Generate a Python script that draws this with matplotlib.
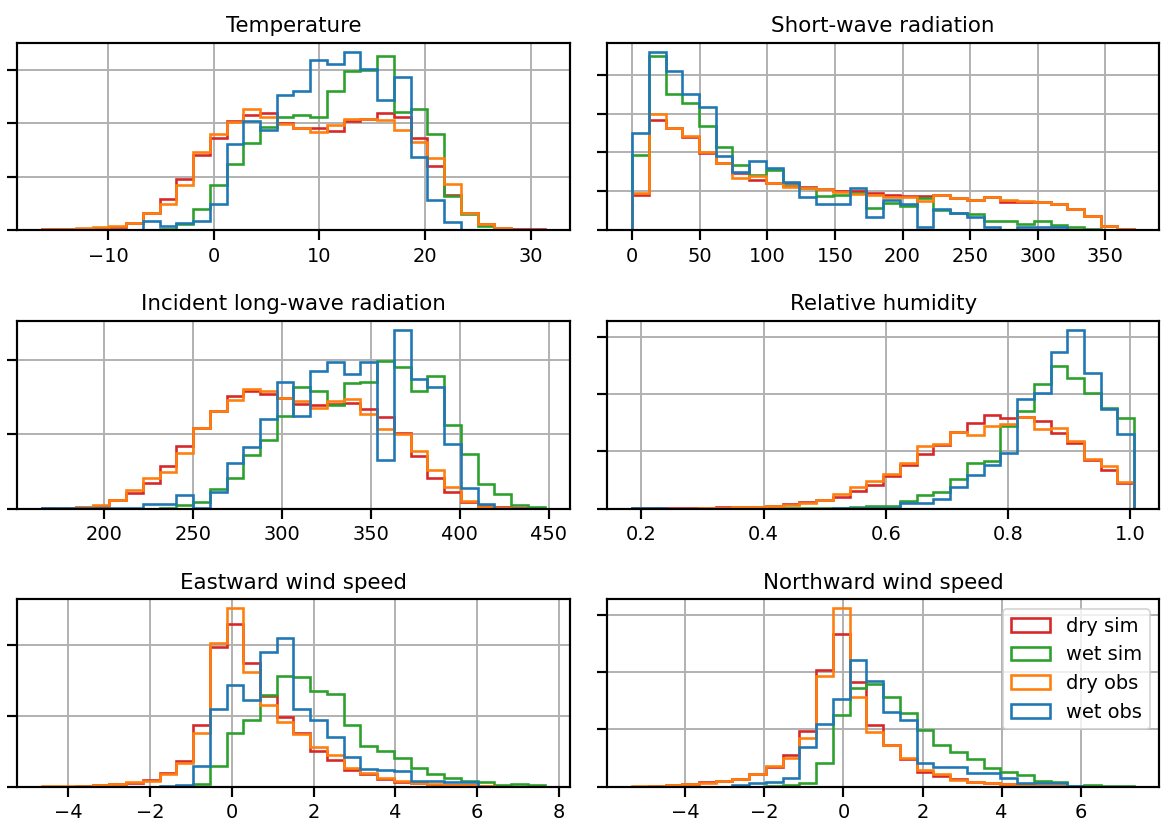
import numpy as np
import matplotlib
matplotlib.use("Agg")
import matplotlib.pyplot as plt
from matplotlib.ticker import MultipleLocator, NullFormatter

plt.rcParams.update({
    "font.family": ["DejaVu Sans"],
    "font.size": 11,
    "axes.titlesize": 12.3,
    "xtick.labelsize": 11.2,
    "ytick.labelsize": 11.2,
    "legend.fontsize": 11.2,
    "axes.linewidth": 1.25,
    "grid.linewidth": 1.1,
    "xtick.major.size": 6,
    "ytick.major.size": 6,
    "xtick.major.width": 1.25,
    "ytick.major.width": 1.25,
})

N_BINS = 30
series_names = ["dry sim", "wet sim", "dry obs", "wet obs"]
series_colors = ["tab:red", "tab:green", "tab:orange", "tab:blue"]

# ---- Temperature (degC) ----
temp_range = (-16.2, 31.3)
temp_dry_sim = [0.02, 0.02, 0.03, 0.05, 0.07, 0.13, 0.32, 0.58, 0.96, 1.40, 1.73, 2.04, 2.16, 2.19, 2.00,
                1.91, 1.91, 1.85, 2.04, 2.08, 2.19, 2.12, 1.73, 1.21, 0.66, 0.32, 0.12, 0.04, 0.025, 0.02]
temp_wet_sim = [0, 0, 0, 0, 0, 0, 0.005, 0.025, 0.12, 0.40, 0.84, 1.24, 1.63, 1.94, 2.11,
                2.16, 2.12, 2.60, 2.97, 2.99, 3.26, 2.22, 2.26, 1.81, 0.64, 0.31, 0.09, 0.03, 0.01, 0.005]
temp_dry_obs = [0.025, 0.02, 0.04, 0.055, 0.075, 0.14, 0.32, 0.50, 0.84, 1.47, 1.80, 2.03, 2.26, 2.12, 1.99,
                1.91, 1.83, 1.96, 2.08, 2.08, 2.06, 1.88, 1.66, 1.35, 0.87, 0.32, 0.12, 0.04, 0.01, 0.0]
temp_wet_obs = [0, 0, 0, 0.005, 0.01, 0.01, 0.17, 0.075, 0.14, 0.17, 0.50, 1.61, 2.04, 1.88, 2.53,
                2.61, 3.18, 3.11, 3.34, 3.02, 2.43, 2.86, 1.38, 0.57, 0.155, 0, 0, 0, 0, 0]

# ---- Short-wave radiation (W m-2) ----
sw_range = (0.0, 371.3)
sw_dry_sim = [0.92, 2.83, 2.63, 2.41, 1.99, 1.73, 1.47, 1.30, 1.22, 1.22, 1.11, 1.06, 1.01, 1.01, 0.96,
              0.90, 0.88, 0.88, 0.90, 0.83, 0.78, 0.87, 0.72, 0.72, 0.74, 0.67, 0.54, 0.38, 0.11, 0.035]
sw_wet_sim = [1.94, 4.49, 3.51, 3.26, 2.69, 2.15, 1.69, 1.41, 1.55, 1.13, 1.09, 0.88, 0.92, 0.96, 0.57,
              0.70, 0.62, 0.82, 0.53, 0.44, 0.41, 0.24, 0.24, 0.17, 0.24, 0.15, 0.085, 0.03, 0.01, 0.005]
sw_dry_obs = [0.96, 2.99, 2.62, 2.42, 2.00, 1.72, 1.35, 1.39, 1.22, 1.11, 1.08, 1.05, 0.98, 0.94, 0.91,
              0.87, 0.85, 0.75, 0.90, 0.83, 0.78, 0.87, 0.78, 0.75, 0.74, 0.67, 0.54, 0.38, 0.11, 0.035]
sw_wet_obs = [2.49, 4.59, 4.09, 3.50, 3.16, 1.92, 1.49, 1.77, 1.59, 1.25, 0.85, 0.68, 0.68, 1.09, 0.34,
              0.77, 0.67, 0.085, 0.54, 0.44, 0.34, 0.085, 0.02, 0.085, 0.085, 0.085, 0.015, 0, 0, 0]

# ---- Incident long-wave radiation (W m-2) ----
lw_range = (165.6, 447.6)
lw_dry_sim = [0.005, 0.013, 0.02, 0.04, 0.11, 0.21, 0.35, 0.58, 0.85, 1.08, 1.31, 1.52, 1.59, 1.55, 1.49,
              1.41, 1.39, 1.41, 1.42, 1.34, 1.23, 1.02, 0.71, 0.41, 0.22, 0.09, 0.03, 0.02, 0.003, 0]
lw_wet_sim = [0, 0, 0, 0, 0, 0, 0, 0.01, 0.045, 0.09, 0.26, 0.41, 0.72, 0.93, 1.25,
              1.64, 1.59, 1.39, 1.69, 1.71, 1.99, 1.91, 1.59, 1.79, 1.12, 0.74, 0.33, 0.19, 0.045, 0.02]
lw_dry_obs = [0, 0.013, 0.02, 0.05, 0.11, 0.25, 0.41, 0.49, 0.75, 1.08, 1.31, 1.46, 1.61, 1.58, 1.49,
              1.45, 1.36, 1.45, 1.48, 1.28, 1.07, 1.00, 0.77, 0.52, 0.29, 0.10, 0.02, 0.01, 0, 0]
lw_wet_obs = [0.003, 0.003, 0.003, 0.003, 0.003, 0.003, 0.06, 0.06, 0.18, 0.005, 0.22, 0.61, 0.83, 1.21, 1.70,
              1.25, 1.86, 1.97, 1.81, 1.97, 0.66, 2.41, 1.75, 1.64, 0.87, 0.28, 0.06, 0, 0, 0]

# ---- Relative humidity (-) ----
rh_range = (0.185, 1.0063)
rh_dry_sim = [0.003, 0.003, 0.003, 0.003, 0.003, 0.02, 0.03, 0.035, 0.05, 0.075, 0.11, 0.145, 0.20, 0.30, 0.42,
              0.57, 0.76, 0.95, 1.12, 1.34, 1.50, 1.63, 1.59, 1.61, 1.54, 1.32, 1.15, 0.85, 0.67, 0.44]
rh_wet_sim = [0, 0, 0, 0, 0, 0, 0, 0, 0.003, 0.005, 0.005, 0.01, 0.015, 0.02, 0.04,
              0.04, 0.13, 0.23, 0.29, 0.51, 0.80, 0.83, 1.45, 1.70, 2.18, 2.50, 2.28, 2.03, 1.76, 1.59]
rh_dry_obs = [0, 0, 0, 0, 0.003, 0.017, 0.02, 0.03, 0.045, 0.07, 0.105, 0.145, 0.25, 0.38, 0.49,
              0.61, 0.80, 1.09, 1.13, 1.34, 1.28, 1.44, 1.48, 1.61, 1.40, 1.41, 1.19, 0.87, 0.74, 0.47]
rh_wet_obs = [0.003, 0.003, 0, 0, 0, 0, 0, 0, 0, 0, 0, 0, 0.003, 0.005, 0.005,
              0.005, 0.10, 0.10, 0.16, 0.38, 0.58, 0.76, 0.98, 1.92, 2.02, 2.74, 3.13, 2.38, 1.74, 1.31]

# ---- Eastward wind speed (m s-1) ----
ew_range = (-4.625, 7.643)
ew_dry_sim = [0.003, 0.003, 0.01, 0.02, 0.04, 0.05, 0.10, 0.20, 0.37, 0.87, 1.98, 2.31, 1.75, 1.28, 0.99,
              0.76, 0.51, 0.38, 0.23, 0.18, 0.11, 0.07, 0.047, 0.03, 0.03, 0.02, 0.01, 0, 0, 0]
ew_wet_sim = [0, 0, 0, 0, 0, 0, 0, 0, 0.003, 0.04, 0.30, 0.76, 0.95, 1.30, 1.56,
              1.55, 1.35, 1.31, 0.88, 0.58, 0.50, 0.41, 0.27, 0.18, 0.12, 0.075, 0.06, 0.03, 0.045, 0.03]
ew_dry_obs = [0.005, 0.005, 0.015, 0.025, 0.04, 0.06, 0.085, 0.18, 0.33, 0.76, 2.03, 2.53, 1.63, 1.16, 0.91,
              0.75, 0.56, 0.45, 0.27, 0.20, 0.13, 0.075, 0.047, 0.04, 0.03, 0.025, 0.005, 0, 0, 0]
ew_wet_obs = [0.003, 0.003, 0, 0, 0, 0, 0, 0.005, 0.03, 0.29, 1.10, 1.44, 1.23, 1.90, 2.10,
              1.10, 0.95, 0.70, 0.42, 0.25, 0.24, 0.22, 0.085, 0.085, 0.07, 0.07, 0, 0, 0, 0]

# ---- Northward wind speed (m s-1) ----
nw_range = (-5.346, 7.353)
nw_dry_sim = [0.003, 0.01, 0.03, 0.045, 0.075, 0.105, 0.14, 0.22, 0.34, 0.56, 0.98, 2.03, 2.66, 1.82, 1.08,
              0.73, 0.48, 0.26, 0.19, 0.13, 0.087, 0.06, 0.04, 0.03, 0.02, 0.015, 0.003, 0, 0, 0]
nw_wet_sim = [0, 0, 0, 0, 0, 0, 0, 0, 0.005, 0.03, 0.07, 0.41, 1.26, 1.73, 1.80,
              1.57, 1.29, 0.99, 0.72, 0.60, 0.48, 0.32, 0.26, 0.20, 0.10, 0.075, 0.01, 0.035, 0.01, 0.01]
nw_dry_obs = [0.005, 0.01, 0.03, 0.04, 0.07, 0.10, 0.13, 0.22, 0.36, 0.51, 0.85, 1.93, 3.12, 1.57, 0.96,
              0.73, 0.51, 0.29, 0.23, 0.116, 0.08, 0.06, 0.04, 0.03, 0.017, 0.017, 0, 0, 0, 0]
nw_wet_obs = [0.003, 0.003, 0.003, 0.003, 0.003, 0.003, 0.03, 0.07, 0.09, 0.15, 0.69, 1.10, 1.53, 2.22, 1.85,
              1.31, 1.16, 0.42, 0.35, 0.35, 0.24, 0.24, 0.15, 0.06, 0.06, 0.07, 0.01, 0, 0, 0]

panels = [
    ("Temperature", temp_range, [temp_dry_sim, temp_wet_sim, temp_dry_obs, temp_wet_obs], 10),
    ("Short-wave radiation", sw_range, [sw_dry_sim, sw_wet_sim, sw_dry_obs, sw_wet_obs], 50),
    ("Incident long-wave radiation", lw_range, [lw_dry_sim, lw_wet_sim, lw_dry_obs, lw_wet_obs], 50),
    ("Relative humidity", rh_range, [rh_dry_sim, rh_wet_sim, rh_dry_obs, rh_wet_obs], 0.2),
    ("Eastward wind speed", ew_range, [ew_dry_sim, ew_wet_sim, ew_dry_obs, ew_wet_obs], 2),
    ("Northward wind speed", nw_range, [nw_dry_sim, nw_wet_sim, nw_dry_obs, nw_wet_obs], 2),
]

fig, axes = plt.subplots(3, 2, figsize=(9.384, 6.632), dpi=125)
fig.subplots_adjust(left=0.01475, right=0.98832, top=0.9485, bottom=0.0510,
                    wspace=0.0675, hspace=0.482)

for ax, (title, rng, values, xstep) in zip(axes.flat, panels):
    edges = np.linspace(rng[0], rng[1], N_BINS + 1)
    centers = 0.5 * (edges[:-1] + edges[1:])
    for name, color, vals in zip(series_names, series_colors, values):
        ax.hist(centers, bins=edges, weights=vals, histtype="step",
                color=color, linewidth=1.5, label=name)
    ax.set_title(title)
    ax.grid(True)
    ax.xaxis.set_major_locator(MultipleLocator(xstep))
    ax.yaxis.set_major_locator(MultipleLocator(1))
    ax.yaxis.set_major_formatter(NullFormatter())

axes[2, 1].legend(loc="upper right")

fig.savefig("out.png", dpi=125)
